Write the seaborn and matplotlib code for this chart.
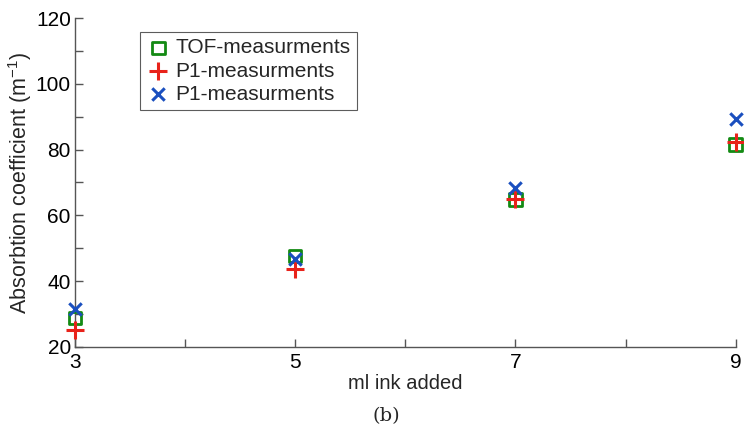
import matplotlib
matplotlib.use("Agg")
import matplotlib.pyplot as plt
import seaborn as sns
import pandas as pd
from matplotlib.ticker import MultipleLocator, FixedLocator

ink_ml = [3, 5, 7, 9]
tof_vals = [28.8, 47.7, 64.8, 81.6]
p1_plus_vals = [25.3, 43.8, 65.0, 82.3]
p1_x_vals = [31.5, 46.6, 68.3, 89.4]
series_labels = ["TOF-measurments", "P1-measurments", "P1-measurments"]
xtick_labels = ["3", "5", "7", "9"]

sns.set_theme(style="white")
plt.rcParams['font.family'] = ['Liberation Sans', 'DejaVu Sans']

fig = plt.figure(figsize=(7.44, 4.34), dpi=100)
ax = fig.add_axes([0.1008, 0.2005, 0.888, 0.758])

green = "#138a13"
red = "#e8221a"
blue = "#1a4fbf"

sns.scatterplot(x=ink_ml, y=tof_vals, ax=ax, marker="s", s=80,
                facecolors="none", edgecolor=green, linewidth=2,
                label=series_labels[0], zorder=3, clip_on=False)
sns.scatterplot(x=ink_ml, y=p1_plus_vals, ax=ax, marker="+", s=150,
                color=red, linewidth=2.2, label=series_labels[1], zorder=4,
                clip_on=False)
sns.scatterplot(x=ink_ml, y=p1_x_vals, ax=ax, marker="x", s=80,
                color=blue, linewidth=2.2, label=series_labels[2], zorder=5,
                clip_on=False)

ax.set_xlim(3, 9)
ax.set_ylim(20, 120)
ax.xaxis.set_major_locator(FixedLocator([3, 5, 7, 9]))
ax.set_xticklabels(xtick_labels)
ax.xaxis.set_minor_locator(MultipleLocator(1))
ax.yaxis.set_major_locator(MultipleLocator(20))
ax.yaxis.set_minor_locator(MultipleLocator(10))

for side in ["top", "right"]:
    ax.spines[side].set_visible(False)
for side in ["left", "bottom"]:
    ax.spines[side].set_color("#555555")
    ax.spines[side].set_linewidth(1.0)

ax.tick_params(axis="both", which="both", direction="in", color="#555555",
               bottom=True, left=True)
ax.tick_params(axis="both", which="major", length=6, width=1, labelsize=15,
               labelcolor="black")
ax.tick_params(axis="x", which="major", pad=4)
ax.tick_params(axis="y", which="major", pad=3)
ax.tick_params(axis="both", which="minor", length=6, width=1)

ax.set_xlabel("ml ink added", fontsize=14.5, labelpad=2)
ax.set_ylabel("Absorbtion coefficient (m$^{\\mathregular{-1}}$)", fontsize=15.5, labelpad=1)

leg = ax.legend(loc="upper left", bbox_to_anchor=(0.098, 0.957), fontsize=15,
                frameon=True, fancybox=False, edgecolor="#333333",
                handletextpad=0.2, borderpad=0.3, labelspacing=0.2,
                handlelength=1.2, borderaxespad=0)
leg.get_frame().set_linewidth(0.8)

fig.text(0.519, 0.041, "(b)", ha="center", va="center", fontsize=14,
         family=["DejaVu Serif"])

fig.savefig("out.png", dpi=100)
